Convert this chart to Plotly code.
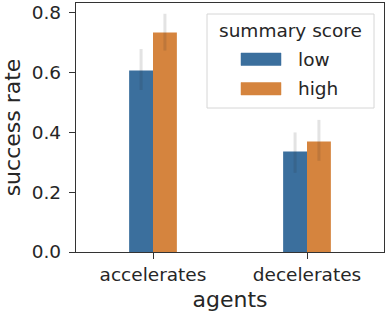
import plotly.graph_objects as go

categories = ["accelerates", "decelerates"]
series_names = ["low", "high"]
low_vals = [0.607, 0.336]
low_hi = [0.679, 0.400]
low_lo = [0.542, 0.265]
high_vals = [0.734, 0.370]
high_hi = [0.797, 0.442]
high_lo = [0.674, 0.305]
colors = ["#3b6f9d", "#d5843e"]
legend_title = "summary score"

FONT = "DejaVu Sans"
FS = 18.5
TXT = "#262626"
fig = go.Figure()
for name, vals, hi, lo, col in [
    (series_names[0], low_vals, low_hi, low_lo, colors[0]),
    (series_names[1], high_vals, high_hi, high_lo, colors[1]),
]:
    fig.add_trace(go.Bar(
        x=categories, y=vals, name=name, showlegend=False,
        marker=dict(color=col, line=dict(width=0)),
        error_y=dict(type="data", symmetric=False,
                     array=[h - v for h, v in zip(hi, vals)],
                     arrayminus=[v - l for v, l in zip(vals, lo)],
                     color="rgba(40,40,40,0.13)", thickness=3, width=0),
    ))

# plot area in pixels: x 76..384, y 3..252
L, R, T, B = 76, 384, 3, 252
def px(x):
    return (x - L) / (R - L)
def py(y):
    return (B - y) / (B - T)

# custom legend (matplotlib-style wide patches)
fig.add_shape(type="rect", xref="paper", yref="paper",
              x0=px(207), x1=px(374), y0=py(108), y1=py(14),
              line=dict(color="#d6d6d6", width=1), fillcolor="rgba(255,255,255,0.8)",
              layer="above")
fig.add_annotation(text=legend_title, xref="paper", yref="paper",
                   x=px(290.5), y=py(30), showarrow=False,
                   xanchor="center", yanchor="middle",
                   font=dict(family=FONT, size=FS, color=TXT))
for i, (name, col) in enumerate(zip(series_names, colors)):
    top = 53 + i * 29.5
    fig.add_shape(type="rect", xref="paper", yref="paper",
                  x0=px(241), x1=px(281), y0=py(top + 12.5), y1=py(top),
                  line=dict(color=col, width=0.5), fillcolor=col, layer="above")
    fig.add_annotation(text=name, xref="paper", yref="paper",
                       x=px(296), y=py(top + 6), showarrow=False,
                       xanchor="left", yanchor="middle",
                       font=dict(family=FONT, size=FS, color=TXT))

fig.update_layout(
    width=388, height=314,
    margin=dict(l=L, r=388 - R, t=T, b=314 - B),
    paper_bgcolor="white", plot_bgcolor="white",
    barmode="group", bargap=0.69, bargroupgap=0,
    font=dict(family=FONT, size=FS, color=TXT),
    showlegend=False,
    xaxis=dict(
        title=dict(text="agents", standoff=7),
        showline=True, linecolor="#333333", linewidth=1.3, mirror=True,
        ticks="outside", ticklen=6, tickcolor="#333333", tickwidth=1.3,
        range=[-0.5, 1.5], automargin=False,
    ),
    yaxis=dict(
        title=dict(text="success rate", standoff=10),
        showline=True, linecolor="#333333", linewidth=1.3, mirror=True,
        ticks="outside", ticklen=6, tickcolor="#333333", tickwidth=1.3,
        range=[0, 0.833], tickvals=[0, 0.2, 0.4, 0.6, 0.8], tickformat=".1f",
        showgrid=False, zeroline=False, automargin=False, ticklabelstandoff=4,
    ),
)
fig.write_html("out.html", config={"displayModeBar": False},
               post_script="document.body.style.margin='0';")
